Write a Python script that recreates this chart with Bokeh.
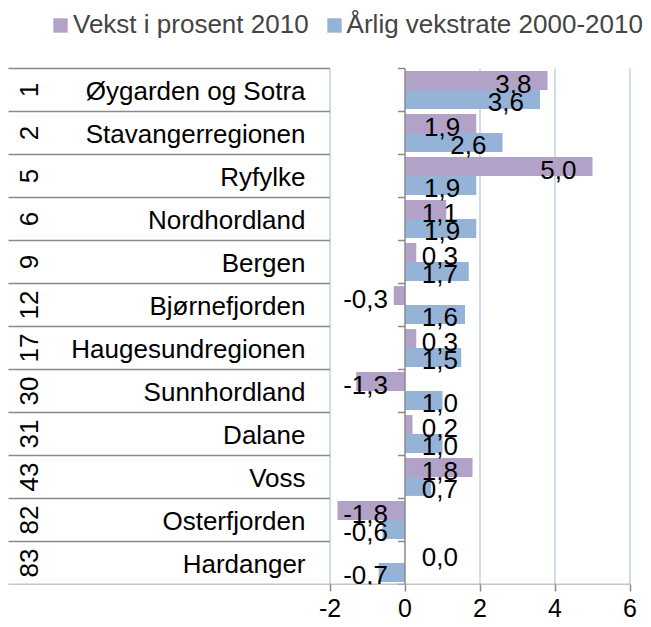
import numpy as np
from bokeh.plotting import figure
from bokeh.models import ColumnDataSource, Range1d, FixedTicker, Legend, LegendItem
from bokeh.core.properties import value
from bokeh.embed import file_html
from bokeh.resources import INLINE

# ---- data -------------------------------------------------------------
ranks = ["1", "2", "5", "6", "9", "12", "17", "30", "31", "43", "82", "83"]
regions = ["Øygarden og Sotra", "Stavangerregionen", "Ryfylke", "Nordhordland",
           "Bergen", "Bjørnefjorden", "Haugesundregionen", "Sunnhordland",
           "Dalane", "Voss", "Osterfjorden", "Hardanger"]
vekst_2010 = [3.8, 1.9, 5.0, 1.1, 0.3, -0.3, 0.3, -1.3, 0.2, 1.8, -1.8, 0.0]
vekstrate_2000_2010 = [3.6, 2.6, 1.9, 1.9, 1.7, 1.6, 1.5, 1.0, 1.0, 0.7, -0.6, -0.7]
x_ticks = [-2, 0, 2, 4, 6]
grid_ticks = [-2, 2, 4, 6]
series_names = ["Vekst i prosent 2010", "Årlig vekstrate 2000-2010"]

# ---- style ------------------------------------------------------------
colors = ["#B3A2C7", "#95B3D7"]
GRID = "#BCD0E9"
AXIS = "#8A8A8A"
FONT = "Liberation Sans"
PX = 37.5          # pixels per x unit
ROW = 43.0         # pixels per category row
FRAME_H = 584
X0 = -2 - 329.5 / PX
X1 = X0 + 651 / PX

n = len(regions)
yc = np.arange(n)[::-1] + 0.5
off, bh = 0.22, 0.44

p = figure(width=651, height=627, x_range=Range1d(X0, X1),
           y_range=Range1d(0, FRAME_H / ROW),
           output_backend="svg", toolbar_location=None,
           min_border_left=0, min_border_right=0, min_border_top=0,
           min_border_bottom=627 - FRAME_H)
p.outline_line_color = None
p.grid.visible = False
p.yaxis.visible = False
p.background_fill_color = "white"
p.border_fill_color = "white"

# vertical grid lines
p.segment(x0=grid_ticks, y0=0, x1=grid_ticks, y1=n, line_color=GRID, line_width=1.5)

# separators in category label area (drawn right-to-left)
bounds = list(range(n + 1))
p.segment(x0=-2, y0=bounds, x1=X0 + 8 / PX, y1=bounds, line_color=AXIS, line_width=1.5)

# bars
s1 = ColumnDataSource(dict(y=yc + off, v=vekst_2010))
s2 = ColumnDataSource(dict(y=yc - off, v=vekstrate_2000_2010))
r1 = p.hbar(y="y", left=0, right="v", height=bh, source=s1, fill_color=colors[0], line_color=None)
r2 = p.hbar(y="y", left=0, right="v", height=bh, source=s2, fill_color=colors[1], line_color=None)

# value axis line at 0 with small ticks, bottom axis line
p.segment(x0=0, y0=0, x1=0, y1=n, line_color=AXIS, line_width=1.5)
p.segment(x0=0, y0=bounds, x1=-7 / PX, y1=bounds, line_color=AXIS, line_width=1.5)
p.segment(x0=-2, y0=0, x1=6, y1=0, line_color=AXIS, line_width=1.5)

# data labels
def lab_x(v):
    return max(v - 0.427, 1.413) if v >= 0 else -0.453

def fmt(v):
    return f"{v:.1f}".replace(".", ",")

for vals, yy in ((vekst_2010, yc + off), (vekstrate_2000_2010, yc - off)):
    src = ColumnDataSource(dict(x=[lab_x(v) for v in vals], y=yy, t=[fmt(v) for v in vals]))
    p.text(x="x", y="y", text="t", source=src, text_align="right", text_baseline="middle",
           y_offset=3, text_font=value(FONT), text_font_size="26px", text_color="black")

# category labels
cs = ColumnDataSource(dict(y=yc, name=regions, rank=ranks))
p.text(x=-2 - 24.5 / PX, y="y", text="name", source=cs, text_align="right", text_baseline="middle",
       y_offset=1, text_font=value(FONT), text_font_size="26px", text_color="black")
p.text(x=X0 + 28 / PX, y="y", text="rank", source=cs, angle=np.pi / 2, text_align="center",
       text_baseline="middle", text_font=value(FONT), text_font_size="26px", text_color="black")

# x axis
ax = p.xaxis[0]
ax.ticker = FixedTicker(ticks=x_ticks)
ax.major_label_overrides = {t: str(t) for t in x_ticks}
ax.axis_line_color = None
ax.major_tick_line_color = AXIS
ax.major_tick_line_width = 1.5
ax.major_tick_out = 7
ax.major_tick_in = 0
ax.minor_tick_line_color = None
ax.major_label_standoff = 7
ax.major_label_text_font = FONT
ax.major_label_text_font_size = "25px"
ax.major_label_text_color = "black"

legend = Legend(items=[LegendItem(label=series_names[0], renderers=[r1]),
                       LegendItem(label=series_names[1], renderers=[r2])],
                orientation="horizontal", location=(51, 544),
                glyph_width=18, glyph_height=18, label_standoff=4, spacing=16,
                padding=0, margin=0, border_line_color=None, background_fill_alpha=0,
                label_text_font=FONT, label_text_font_size="26px")
p.add_layout(legend)

open("out.html", "w").write(file_html(p, INLINE))
